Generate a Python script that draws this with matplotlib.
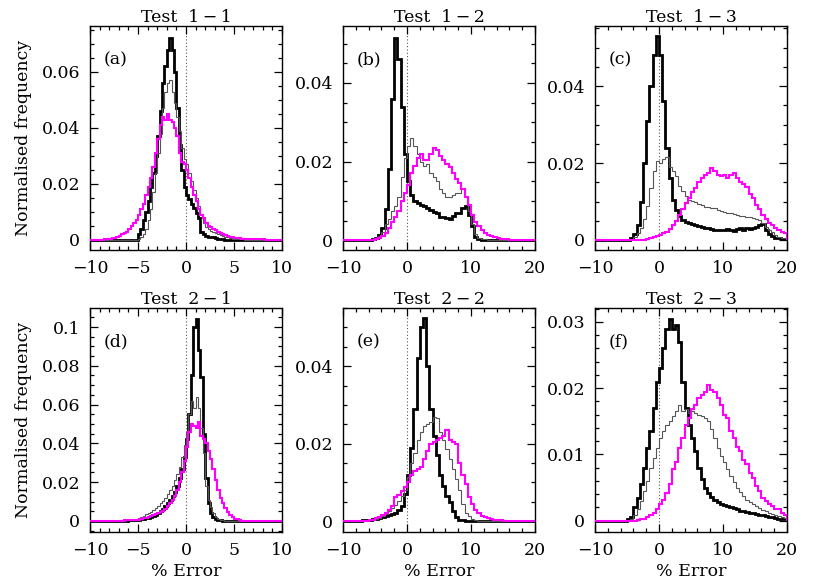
import numpy as np
import matplotlib

matplotlib.use("Agg")
import matplotlib.pyplot as plt
from matplotlib.ticker import MultipleLocator, FuncFormatter

plt.rcParams["font.family"] = ["DejaVu Serif"]
plt.rcParams["font.size"] = 12

# bin edges: panels with -10..10 use 0.25 % bins, the -10..20 panels 0.5 % bins
edges_narrow = np.linspace(-10, 10, 81)
edges_wide = np.linspace(-10, 20, 61)

# ---- Test 1-1 (a) ------------------------------------------------------------
a_black = ([0.0] * 20 +
           [0.002, 0.004, 0.007, 0.010,
            0.014, 0.019, 0.024, 0.030,
            0.037, 0.046, 0.056, 0.062,
            0.068, 0.072, 0.068, 0.060,
            0.047, 0.034, 0.025, 0.019,
            0.016, 0.0145, 0.013, 0.0115,
            0.0095, 0.008, 0.003, 0.002,
            0.0015, 0.001, 0.001, 0.001,
            0.0008, 0.0005, 0.0003, 0.0002] +
           [0.0] * 24)
a_grey = ([0.0] * 20 +
          [0.0005, 0.001, 0.002, 0.004,
           0.007, 0.011, 0.017, 0.024,
           0.031, 0.038, 0.047, 0.053,
           0.056, 0.057, 0.053, 0.049,
           0.044, 0.039, 0.033, 0.029,
           0.027, 0.024, 0.021, 0.018,
           0.015, 0.012, 0.009, 0.006,
           0.0045, 0.0038, 0.0033, 0.003,
           0.0025, 0.002, 0.0018, 0.0015,
           0.0012, 0.001, 0.0008, 0.0005,
           0.0003, 0.0003, 0.0002, 0.0002] +
          [0.0] * 16)
a_magenta = [0.0, 0.0, 0.0, 0.0,
             0.0, 0.0, 0.0002, 0.0002,
             0.0004, 0.0006, 0.0008, 0.001,
             0.0015, 0.002, 0.0025, 0.003,
             0.004, 0.005, 0.006, 0.007,
             0.009, 0.011, 0.013, 0.016,
             0.019, 0.022, 0.026, 0.031,
             0.036, 0.041, 0.044, 0.043,
             0.045, 0.043, 0.042, 0.040,
             0.037, 0.031, 0.028, 0.027,
             0.025, 0.022, 0.019, 0.016,
             0.014, 0.011, 0.009, 0.008,
             0.006, 0.005, 0.0045, 0.004,
             0.0035, 0.003, 0.0025, 0.002,
             0.0018, 0.0015, 0.0012, 0.001,
             0.0008, 0.0007, 0.0006, 0.0005,
             0.0004, 0.0004, 0.0003, 0.0003,
             0.0003, 0.0002, 0.0002, 0.0002,
             0.0002, 0.0001, 0.0001, 0.0001,
             0.0001, 0.0001, 0.0001, 0.0001]

# ---- Test 1-2 (b) ------------------------------------------------------------
b_black = ([0, 0, 0, 0, 0, 0, 0, 0, 0, 0.0003,
            0.0006, 0.0012, 0.003, 0.008, 0.018, 0.036, 0.0515, 0.046, 0.034, 0.022,
            0.015, 0.0115, 0.010, 0.0095, 0.009, 0.0088, 0.0082, 0.0078, 0.0072, 0.007,
            0.006, 0.006, 0.0057, 0.0055, 0.0062, 0.0068, 0.007, 0.0082, 0.0088, 0.0065,
            0.0035, 0.0008, 0.0002, 0, 0, 0, 0, 0, 0, 0] +
           [0.0] * 10)
b_grey = ([0, 0, 0, 0, 0, 0, 0, 0, 0, 0.0003,
           0.0005, 0.001, 0.002, 0.004, 0.0055, 0.0075, 0.0088, 0.011, 0.016, 0.021,
           0.024, 0.026, 0.024, 0.022, 0.020, 0.019, 0.0195, 0.017, 0.016, 0.015,
           0.013, 0.012, 0.011, 0.011, 0.0115, 0.012, 0.012, 0.013, 0.011, 0.0075,
           0.004, 0.0015, 0.0006, 0.0003, 0.0002, 0, 0, 0, 0, 0] +
          [0.0] * 10)
b_magenta = ([0.0] * 10 +
             [0.0003, 0.0006, 0.001, 0.0018, 0.0032, 0.0045, 0.0058, 0.0075, 0.010, 0.012,
              0.014, 0.017, 0.019, 0.021, 0.022, 0.0205, 0.0205, 0.022, 0.0235, 0.023,
              0.0215, 0.0205, 0.0195, 0.0185, 0.017, 0.0155, 0.0145, 0.013, 0.011, 0.009,
              0.0065, 0.0045, 0.0035, 0.0025, 0.0018, 0.0013, 0.001, 0.0008, 0.0006, 0.0004,
              0.0003, 0.0002, 0, 0, 0, 0, 0, 0, 0, 0])

# ---- Test 1-3 (c) ------------------------------------------------------------
c_black = ([0.0] * 10 +
           [0, 0.0004, 0.0015, 0.004, 0.010, 0.020, 0.031, 0.040, 0.048, 0.053,
            0.048, 0.036, 0.024, 0.016, 0.0105, 0.0078, 0.0062, 0.0053, 0.0048, 0.0044,
            0.0042, 0.004, 0.0037, 0.0035, 0.0031, 0.003, 0.0028, 0.0025, 0.0027, 0.0026,
            0.0025, 0.0028, 0.0026, 0.0024, 0.0028, 0.003, 0.0027, 0.003, 0.0028, 0.0032,
            0.0034, 0.004, 0.0042, 0.0025, 0.0015, 0.001, 0.0006, 0.0004, 0.0003, 0.0002])
c_grey = ([0.0] * 10 +
          [0, 0.0002, 0.0008, 0.0018, 0.0032, 0.0055, 0.0088, 0.0135, 0.018, 0.0205,
           0.020, 0.021, 0.0215, 0.019, 0.018, 0.0165, 0.014, 0.0128, 0.0115, 0.0105,
           0.0102, 0.0098, 0.0093, 0.009, 0.0087, 0.0085, 0.0083, 0.0082, 0.0078, 0.0075,
           0.0073, 0.007, 0.0069, 0.0068, 0.0066, 0.0063, 0.0062, 0.0061, 0.006, 0.0057,
           0.0055, 0.0052, 0.0045, 0.0035, 0.0027, 0.002, 0.0013, 0.0009, 0.0006, 0.0004])
c_magenta = ([0.0] * 10 +
             [0, 0, 0, 0, 0, 0, 0.0002, 0.0004, 0.0007, 0.001,
              0.0013, 0.0017, 0.0022, 0.0028, 0.0038, 0.005, 0.0065, 0.008, 0.0095, 0.011,
              0.0125, 0.0135, 0.015, 0.016, 0.0168, 0.0175, 0.0188, 0.018, 0.017, 0.0165,
              0.0168, 0.016, 0.017, 0.0175, 0.016, 0.015, 0.0145, 0.0138, 0.012, 0.0108,
              0.0092, 0.008, 0.0065, 0.0055, 0.0045, 0.0038, 0.003, 0.0027, 0.0022, 0.0018])

# ---- Test 2-1 (d) ------------------------------------------------------------
d_black = ([0.0] * 12 +
           [0.0001, 0.0001, 0.0002, 0.0002,
            0.0003, 0.0003, 0.0004, 0.0004,
            0.0005, 0.0008, 0.001, 0.0013,
            0.0016, 0.002, 0.0025, 0.003,
            0.004, 0.005, 0.006, 0.0075,
            0.009, 0.011, 0.013, 0.015,
            0.018, 0.022, 0.027, 0.033,
            0.042, 0.055, 0.075, 0.100,
            0.104, 0.088, 0.074, 0.045,
            0.022, 0.009, 0.004, 0.002,
            0.001, 0.0005, 0.0003, 0.0001] +
           [0.0] * 24)
d_grey = ([0.0] * 12 +
          [0.0001, 0.0002, 0.0002, 0.0003,
           0.0003, 0.0004, 0.0006, 0.001,
           0.0015, 0.002, 0.0028, 0.0035,
           0.004, 0.0045, 0.0055, 0.0065,
           0.0075, 0.009, 0.0105, 0.012,
           0.014, 0.016, 0.018, 0.021,
           0.024, 0.028, 0.033, 0.039,
           0.046, 0.055, 0.062, 0.058,
           0.064, 0.058, 0.048, 0.035,
           0.018, 0.011, 0.007, 0.004,
           0.002, 0.001, 0.0005, 0.0003] +
          [0.0] * 24)
d_magenta = ([0.0] * 12 +
             [0.0002, 0.0002, 0.0003, 0.0003,
              0.0003, 0.0004, 0.0004, 0.0005,
              0.0006, 0.001, 0.0013, 0.0017,
              0.002, 0.0025, 0.003, 0.0035,
              0.004, 0.0045, 0.005, 0.006,
              0.0075, 0.009, 0.011, 0.013,
              0.016, 0.020, 0.025, 0.031,
              0.038, 0.046, 0.050, 0.049,
              0.048, 0.051, 0.044, 0.042,
              0.040, 0.036, 0.032, 0.027,
              0.021, 0.016, 0.012, 0.009,
              0.0065, 0.0045, 0.003, 0.002,
              0.0012, 0.0008, 0.0004, 0.0002] +
             [0.0] * 16)

# ---- Test 2-2 (e) ------------------------------------------------------------
e_black = ([0, 0, 0, 0, 0, 0, 0.0002, 0.0003, 0.0004, 0.0005,
            0.0006, 0.0008, 0.001, 0.0012, 0.0015, 0.0018, 0.0022, 0.003, 0.004, 0.007,
            0.012, 0.019, 0.029, 0.042, 0.050, 0.0525, 0.040, 0.029, 0.022, 0.017,
            0.012, 0.009, 0.0065, 0.005, 0.0025, 0.001, 0.0004, 0.0002, 0, 0] +
           [0.0] * 20)
e_grey = ([0, 0, 0, 0, 0, 0, 0, 0, 0.0002, 0.0004,
           0.0006, 0.0009, 0.0013, 0.0018, 0.0025, 0.0033, 0.0042, 0.0053, 0.0065, 0.008,
           0.0115, 0.015, 0.0175, 0.021, 0.023, 0.0245, 0.025, 0.0255, 0.027, 0.0265,
           0.023, 0.021, 0.0185, 0.016, 0.0135, 0.011, 0.008, 0.0045, 0.0022, 0.0012,
           0.0005, 0.0002, 0, 0, 0, 0, 0, 0, 0, 0] +
          [0.0] * 10)
e_magenta = ([0, 0, 0, 0, 0, 0, 0, 0, 0.0002, 0.0004,
              0.0007, 0.001, 0.0015, 0.0022, 0.003, 0.004, 0.0062, 0.0068, 0.0078, 0.0088,
              0.010, 0.012, 0.013, 0.0135, 0.014, 0.016, 0.018, 0.020, 0.0205, 0.021,
              0.0215, 0.022, 0.0235, 0.021, 0.0205, 0.020, 0.015, 0.012, 0.0095, 0.0062,
              0.0045, 0.003, 0.002, 0.0014, 0.001, 0.0007, 0.0005, 0.0004, 0.0003, 0.0002] +
             [0.0] * 10)

# ---- Test 2-3 (f) ------------------------------------------------------------
f_black = ([0.0] * 10 +
           [0.0002, 0.0005, 0.002, 0.0035, 0.0055, 0.008, 0.011, 0.0135, 0.017, 0.021,
            0.023, 0.026, 0.029, 0.0305, 0.029, 0.0295, 0.027, 0.021, 0.017, 0.0145,
            0.0125, 0.0105, 0.008, 0.0063, 0.005, 0.0042, 0.0036, 0.0032, 0.0029, 0.0026,
            0.0024, 0.0022, 0.002, 0.0019, 0.0017, 0.0015, 0.0014, 0.0013, 0.0012, 0.0011,
            0.001, 0.0009, 0.0008, 0.0007, 0.0006, 0.0005, 0.0004, 0.0003, 0.0003, 0.0002])
f_grey = ([0.0] * 10 +
          [0, 0.0003, 0.0008, 0.0018, 0.003, 0.0045, 0.006, 0.008, 0.0095, 0.011,
           0.0125, 0.0135, 0.0145, 0.015, 0.0158, 0.0165, 0.0175, 0.0165, 0.0168, 0.0162,
           0.0165, 0.0163, 0.016, 0.0158, 0.0155, 0.015, 0.0138, 0.0125, 0.011, 0.0098,
           0.0088, 0.0078, 0.0068, 0.0058, 0.005, 0.0043, 0.0037, 0.0032, 0.0028, 0.0025,
           0.0022, 0.0019, 0.0016, 0.0014, 0.0012, 0.001, 0.0008, 0.0007, 0.0005, 0.0004])
f_magenta = ([0.0] * 10 +
             [0, 0, 0, 0.0001, 0.0002, 0.0003, 0.0005, 0.0008, 0.0012, 0.0018,
              0.0025, 0.0032, 0.0042, 0.0055, 0.0078, 0.0088, 0.011, 0.0125, 0.0145, 0.0155,
              0.0168, 0.0175, 0.0185, 0.019, 0.0195, 0.0205, 0.0198, 0.0195, 0.0185, 0.0175,
              0.016, 0.0155, 0.0135, 0.0125, 0.0112, 0.0105, 0.0092, 0.0085, 0.0072, 0.0065,
              0.0052, 0.0045, 0.0035, 0.003, 0.0025, 0.0022, 0.0018, 0.0017, 0.0012, 0.0009])

titles = ["Test  1\u2009\u2212\u20091", "Test  1\u2009\u2212\u20092", "Test  1\u2009\u2212\u20093",
          "Test  2\u2009\u2212\u20091", "Test  2\u2009\u2212\u20092", "Test  2\u2009\u2212\u20093"]
tags = ["(a)", "(b)", "(c)", "(d)", "(e)", "(f)"]
series = [(a_black, a_grey, a_magenta), (b_black, b_grey, b_magenta),
          (c_black, c_grey, c_magenta), (d_black, d_grey, d_magenta),
          (e_black, e_grey, e_magenta), (f_black, f_grey, f_magenta)]
edges = [edges_narrow, edges_wide, edges_wide, edges_narrow, edges_wide, edges_wide]
ylims = [(-0.0036, 0.0764), (-0.0025, 0.0545), (-0.0026, 0.0556),
         (-0.0057, 0.1098), (-0.0028, 0.055), (-0.0017, 0.0321)]
ymajor = [0.02, 0.02, 0.02, 0.02, 0.02, 0.01]
yminor = [0.005, 0.005, 0.005, 0.005, 0.005, 0.002]

W, H = 830, 586
lefts = [90, 343, 595]
tops = [26, 308]
aw, ah = 192, 224

fmt = FuncFormatter(lambda v, _: f"{v:g}".replace("-", "\u2212"))

fig = plt.figure(figsize=(W / 100, H / 100), dpi=100)
for i in range(6):
    r, c = divmod(i, 3)
    ax = fig.add_axes([lefts[c] / W, 1 - (tops[r] + ah) / H, aw / W, ah / H])
    e = edges[i]
    blk, gry, mag = series[i]
    ax.axvline(0, color="#555555", lw=0.8, ls=(0, (1, 2)), zorder=1)
    ax.stairs(blk, e, color="black", lw=2.0, zorder=3)
    ax.stairs(gry, e, color="#555555", lw=0.8, zorder=4)
    ax.stairs(mag, e, color="#ff00ff", lw=1.5, zorder=5)

    ax.set_xlim(e[0], e[-1])
    ax.set_ylim(*ylims[i])
    if e[-1] == 10:
        ax.xaxis.set_major_locator(MultipleLocator(5))
        ax.xaxis.set_minor_locator(MultipleLocator(1))
    else:
        ax.xaxis.set_major_locator(MultipleLocator(10))
        ax.xaxis.set_minor_locator(MultipleLocator(2))
    ax.yaxis.set_major_locator(MultipleLocator(ymajor[i]))
    ax.yaxis.set_minor_locator(MultipleLocator(yminor[i]))
    ax.xaxis.set_major_formatter(fmt)
    ax.yaxis.set_major_formatter(fmt)
    ax.tick_params(which="both", direction="in", top=True, right=True, width=0.9)
    ax.tick_params(which="major", length=6, labelsize=12.5, pad=7)
    ax.tick_params(which="minor", length=3)
    for s in ax.spines.values():
        s.set_linewidth(1.0)

    ax.set_title(titles[i], fontsize=12.5, pad=3)
    ax.text(0.07, 0.85, tags[i], transform=ax.transAxes, fontsize=12.5,
            ha="left", va="center")
    if c == 0:
        ax.set_ylabel("Normalised frequency", fontsize=12.5)
        ax.yaxis.set_label_coords(-0.30, 0.5)
    if r == 1:
        ax.set_xlabel("% Error", fontsize=12.5, labelpad=3)

fig.savefig("out.png", dpi=100)
